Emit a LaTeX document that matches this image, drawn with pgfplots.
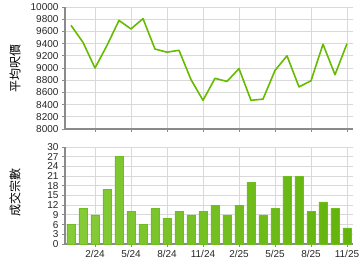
\documentclass[border=0pt]{standalone}
\usepackage{pgfplots}
\pgfplotsset{compat=1.18}
\usepackage{fontspec}
\setmainfont{Liberation Sans}
\newfontfamily\cjk{Noto Sans CJK TC}
\definecolor{linegreen}{HTML}{66BB00}
\definecolor{barL}{HTML}{86CC3A}
\definecolor{barM}{HTML}{BDE884}
\definecolor{barR}{HTML}{62B30A}
\definecolor{barEdge}{HTML}{6DBE1E}
\definecolor{gridc}{HTML}{D9D9D9}
\definecolor{axisc}{HTML}{8A8A8A}
\pgfplotstableread{
x price count
0 9700 6
1 9420 11
2 9000 9
3 9370 17
4 9780 27
5 9640 10
6 9810 6
7 9310 11
8 9260 8
9 9290 10
10 8810 9
11 8470 10
12 8830 12
13 8780 9
14 8990 12
15 8470 19
16 8490 9
17 8960 11
18 9200 21
19 8690 21
20 8790 10
21 9390 13
22 8890 11
23 9400 5
}\datatable
\pgfplotsset{
  common/.style={
    scale only axis, width=288pt, anchor=south west,
    xmin=-0.5, xmax=23.5,
    xtick={2,5,8,11,14,17,20,23},
    grid=major, grid style={gridc, line width=0.8pt},
    axis x line*=bottom, axis y line*=left,
    axis line style={axisc, line width=1.3pt, -},
    tick align=outside, major tick length=3pt,
    tick style={axisc, line width=0.8pt},
    tick label style={font=\fontsize{10}{10}\selectfont, text=black!85},
    scaled y ticks=false,
    /pgf/number format/assume math mode=true,
    /pgf/number format/1000 sep={},
    /pgf/number format/fixed,
    clip=false,
  }
}
\begin{document}
\begin{tikzpicture}[x=1pt,y=1pt]
\useasboundingbox (0,0) rectangle (360,270);
\begin{axis}[common, at={(65pt,141pt)}, height=122pt,
  ymin=8000, ymax=10000, ytick={8000,8200,...,10000},
  xticklabels={}]
\addplot[linegreen, line width=1.6pt, line join=round] table[x=x,y=price]{\datatable};
\end{axis}
\begin{axis}[common, at={(65pt,26pt)}, height=97pt,
  ymin=0, ymax=30, ytick={0,3,...,30},
  xticklabels={2/24,5/24,8/24,11/24,2/25,5/25,8/25,11/25}]
\addplot[ybar, bar width=0.68, draw=barEdge, line width=0.6pt,
  left color=barL, middle color=barM, right color=barR]
  table[x=x,y=count]{\datatable};
\end{axis}
\node[rotate=90, font=\cjk\fontsize{12}{12}\selectfont] at (15,201) {平均呎價};
\node[rotate=90, font=\cjk\fontsize{12}{12}\selectfont] at (15,77) {成交宗數};
\end{tikzpicture}
\end{document}
